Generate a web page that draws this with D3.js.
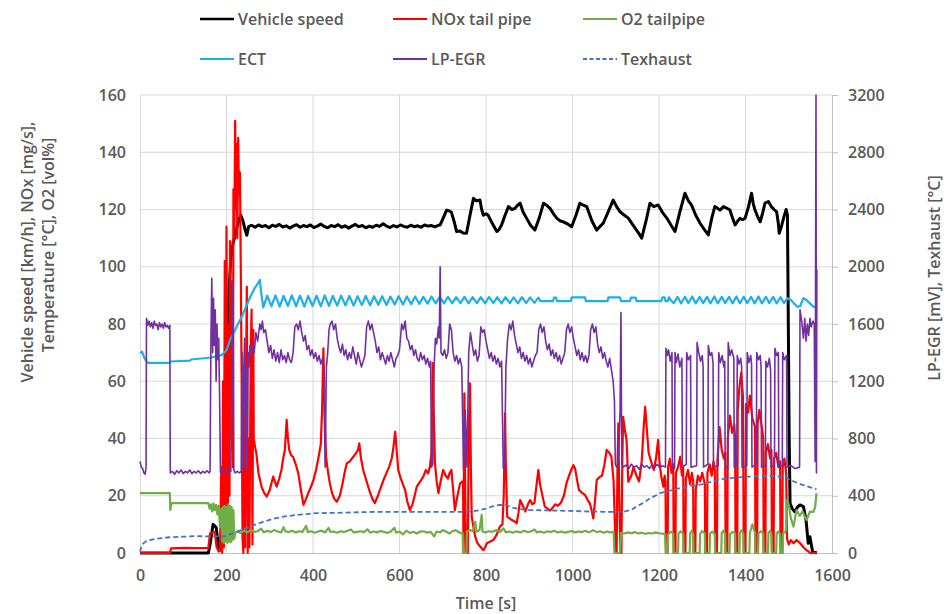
<!DOCTYPE html>
<html><head><meta charset="utf-8">
<script src="https://cdn.jsdelivr.net/npm/d3@7"></script>
<style>
body{margin:0;background:#fff;}
svg text{font-family:"Open Sans",sans-serif;font-weight:600;fill:#595959;}
</style></head><body>
<svg id="chart" width="947" height="614"></svg>
<script>
// ---------- DATA ----------
const xTicks = [0,200,400,600,800,1000,1200,1400,1600];
const yLeftTicks = [0,20,40,60,80,100,120,140,160];
const yRightTicks = [0,400,800,1200,1600,2000,2400,2800,3200];
const seriesNames = ["Vehicle speed","NOx tail pipe","O2 tailpipe","ECT","LP-EGR","Texhaust"];

// [time s, km/h]
const vehicleSpeed = [[0,0],[158,0],[162,3],[169,10],[176,9],[181,3],[185,1],[190,4],[194,9],[198,40],[202,75],[206,92],[210,103],[215,108],[220,111],[226,115],[233,118],[238,116],[243,113],[247,111],[251,114],[258,114.5],[266,113.8],[274,114.6],[282,114],[290,114.4],[298,113.6],[306,114.5],[314,114.1],[322,114.8],[330,113.9],[338,114.3],[346,113.5],[354,114.2],[362,114.7],[370,113.8],[378,114.4],[386,114],[394,114.6],[402,113.7],[410,114.2],[418,114.9],[426,114.1],[434,113.6],[442,114.4],[450,114],[458,114.7],[466,113.8],[474,114.3],[482,113.5],[490,114.2],[498,114.8],[506,114],[514,114.4],[522,113.6],[530,114.2],[538,113.8],[546,114.5],[554,114.1],[562,115],[570,114.2],[578,113.7],[586,114.4],[594,113.9],[602,114.6],[610,114.1],[618,113.8],[626,114.5],[634,114],[642,114.3],[650,113.8],[658,114.6],[666,114.2],[674,114.4],[682,113.9],[690,114.5],[694,114.6],[701,117],[709,119.8],[715,119.5],[720,119],[726,116],[732,112.3],[740,112.5],[747,111.8],[755,111.7],[763,118],[771,123.9],[778,123],[786,123.3],[790,120],[794,118],[800,118.5],[805,118],[815,115],[825,112.3],[830,113],[836,114.6],[844,118],[852,121],[860,120],[867,120.4],[873,121.5],[879,122.2],[886,119],[894,116.9],[903,114.5],[913,112.8],[923,117],[933,122.2],[940,121.5],[948,120.4],[956,118.5],[964,116.9],[972,116],[979,115.7],[988,115],[998,114],[1008,118],[1017,122.2],[1025,121.5],[1033,121],[1045,116],[1056,112.8],[1063,114],[1071,115.2],[1082,119],[1094,123.3],[1102,121],[1110,119.2],[1120,118],[1129,117],[1138,115],[1148,112.8],[1154,111.5],[1160,110],[1170,116],[1179,122.2],[1188,121],[1198,121.6],[1208,119],[1218,117],[1228,114.5],[1237,112.3],[1248,119],[1260,125.7],[1268,123],[1275,121.6],[1285,118],[1295,115.2],[1305,113],[1314,111.1],[1322,117],[1329,121],[1335,120.5],[1341,119.8],[1349,121],[1356,120.5],[1364,119.8],[1370,117],[1376,114.6],[1382,116],[1387,116.9],[1393,116.5],[1399,116.9],[1407,121],[1414,125.7],[1418,122],[1422,119.8],[1428,117.5],[1434,115.7],[1440,119],[1445,122.2],[1453,122.8],[1460,121],[1466,120],[1472,119.2],[1476,115],[1478,111.7],[1484,114.6],[1489,117.5],[1494,120],[1497,118],[1499,80],[1501,40],[1503,17.4],[1508,15.5],[1514,14.4],[1520,16],[1526,16.8],[1534,16.2],[1540,11.5],[1545,3.4],[1549,5.7],[1555,0.5],[1565,0]];

// [time s, mg/s]
const noxTailpipe = [[0,0],[69,0],[72,1.6],[100,1.8],[130,1.7],[158,1.8],[162,6.9],[168,7.2],[173,7.4],[177,2.2],[182,0.5],[185,1],[188,30],[190,0],[192,60],[194,2],[196,102],[198,10],[200,114],[203,5],[205,80],[207,20],[208,109],[211,40],[213,95],[215,30],[216,127],[218,110],[220,151],[222,120],[223,143],[225,110],[227,145],[229,125],[231,133],[233,100],[235,60],[237,5],[239,0],[241,50],[243,2],[245,60],[247,93],[249,0],[251,40],[253,2],[256,70],[258,85],[260,3],[262,78],[263,40],[266,37],[269,34.8],[274,27.8],[281,23.2],[287,21],[293,19.7],[300,22],[308,26.7],[316,23.2],[322,26],[327,29],[331,33],[335,36],[339,46.5],[342,40],[345,36],[350,34],[354,33.6],[360,31],[366,27.8],[372,22],[378,16.8],[384,19],[389,20.9],[395,23],[401,25.5],[407,29],[413,33.6],[418,38],[421,50],[424,71.5],[427,50],[430,33.6],[435,28],[439,24.3],[444,21],[449,19],[455,17.9],[462,20],[468,24],[473,28],[478,31.3],[485,32],[493,33.6],[500,35],[504,36],[507,38.3],[511,33],[516,29],[522,26],[530,22],[537,19],[543,17.4],[550,20],[557,23],[563,25.5],[570,28],[576,30.1],[582,33],[586,37],[590,42.4],[594,35],[597,29],[603,26],[608,24],[613,22],[618,18],[624,15],[630,17],[635,20],[640,23.2],[648,25],[655,26.7],[661,29],[666,27.8],[670,30],[674,35],[677,66.3],[679,50],[682,31.3],[686,25],[690,20.9],[695,25],[701,29],[707,27],[712,26],[716,28],[720,29],[724,22],[728,15],[734,20],[740,24.3],[745,25],[747,24],[748,0],[749,30],[750,55.8],[752,20],[754,0],[758,0],[760,40],[763,59.3],[765,30],[767,12.7],[771,9],[775,5.7],[780,3.5],[785,2.5],[794,1],[798,2],[802,3.4],[810,4],[817,4.5],[825,6.5],[832,9.2],[838,10],[841,20],[844,48.8],[846,30],[849,12.7],[855,12],[860,11.5],[866,11],[871,10.4],[875,14],[879,18.5],[885,16.5],[891,14.5],[897,17],[902,18.5],[907,17],[912,17.5],[917,24],[921,29],[925,24],[929,21],[936,16.2],[942,15.5],[948,14.8],[955,16],[960,17],[966,16.5],[973,17.5],[980,20],[986,24.3],[992,27],[997,29],[1002,30.7],[1006,29.5],[1010,26],[1015,22],[1022,21],[1029,20.3],[1035,18.5],[1040,17.4],[1044,15],[1048,12.1],[1052,18],[1056,25.5],[1062,26.5],[1068,27],[1074,31],[1079,36],[1085,35],[1090,33.6],[1095,25],[1098,10],[1099,0],[1102,0],[1104,30],[1106,45.3],[1108,20],[1111,0],[1113,0],[1115,30],[1117,47.6],[1121,43],[1125,39.5],[1129,24.9],[1136,27],[1141,30],[1148,27],[1154,25],[1160,32],[1165,45],[1168,51.1],[1172,43],[1176,35],[1183,31.3],[1188,29],[1193,33],[1198,39.5],[1201,32],[1205,27],[1210,23.2],[1213,27],[1215,25],[1216,0],[1220,0],[1221,30],[1225,33],[1229,28],[1233,31],[1234,0],[1238,0],[1239,28],[1244,30],[1249,33.6],[1253,27],[1256,30],[1257,0],[1261,0],[1262,26],[1267,29],[1272,24],[1276,28],[1279,25],[1280,0],[1284,0],[1285,22],[1290,27],[1295,25],[1300,28],[1306,24],[1307,0],[1311,0],[1312,28],[1317,31],[1322,27],[1326,32],[1329,29],[1330,0],[1334,0],[1335,32],[1340,44],[1345,36],[1350,33],[1353,35],[1354,0],[1358,0],[1359,40],[1364,48],[1369,42],[1374,45],[1376,40],[1377,0],[1381,0],[1382,50],[1386,58],[1390,63],[1394,55],[1396,0],[1400,0],[1401,52],[1406,49],[1410,55],[1416,47],[1422,44],[1423,0],[1427,0],[1428,45],[1432,50],[1436,46],[1441,40],[1442,0],[1446,0],[1447,35],[1452,38],[1457,33],[1460,36],[1461,0],[1465,0],[1466,33],[1471,35],[1476,30],[1480,32],[1481,0],[1485,0],[1486,30],[1490,33],[1494,28],[1496,5],[1500,3],[1505,4.5],[1511,3.4],[1518,4.5],[1526,3.5],[1534,2],[1541,1],[1550,0],[1565,0]];

// [time s, vol%]
const o2Tailpipe = [[0,20.9],[69,20.9],[70,15],[73,17.4],[110,17.4],[158,17.4],[161,15.5],[164,17],[167,14.5],[170,17.3],[173,15],[176,16.8],[179,13.5],[182,16.5],[185,9],[188,15.5],[190,4],[192,16],[194,3.5],[196,16.5],[198,4],[200,16],[202,3.5],[204,17],[206,4],[208,16.5],[210,3.8],[212,16],[214,4.5],[216,15],[218,5],[220,6.9],[226,7.6],[232,7],[240,7.8],[248,7.2],[256,8],[264,7.4],[272,7.6],[280,8.5],[286,7.2],[294,7.8],[302,7.3],[310,8],[318,7.5],[326,7.2],[332,9],[336,7.6],[344,7.3],[352,7.8],[360,7.2],[368,7.6],[376,7.4],[384,9.5],[388,7.3],[396,7.6],[404,7.1],[412,7.5],[420,7.8],[428,7.2],[436,8.8],[440,7.4],[448,7.5],[456,7.1],[464,7.6],[472,7.3],[480,7.8],[488,8.2],[494,7.2],[502,7.4],[510,7.6],[518,7.3],[526,8.3],[532,7.1],[540,7.5],[548,7.2],[556,7.7],[564,7.4],[572,7],[580,7.5],[588,8.8],[592,7.1],[600,7.5],[608,6.5],[616,7.8],[624,7],[632,7.4],[640,6.8],[648,7.5],[656,7.6],[664,7.1],[672,7.4],[680,5.8],[686,7.5],[694,7.2],[700,8],[708,7.4],[716,6.8],[722,7.6],[730,8],[736,7.4],[742,6.9],[746,7],[747,0],[755,0],[756,7.5],[763,8],[770,7.6],[775,10.9],[778,7.4],[785,8],[790,13.3],[792,7.5],[798,7.2],[806,7.6],[814,7.4],[825,8],[832,7.3],[840,8.6],[846,7.2],[854,7.5],[862,7.1],[870,7.6],[879,7.2],[888,7.8],[896,7.3],[904,7.5],[912,8.2],[918,7.2],[926,7.5],[934,7.1],[942,7.6],[950,7.3],[958,7.8],[966,7.2],[974,7.5],[982,7.1],[990,7.4],[998,7.7],[1006,7.2],[1014,7.5],[1022,7.3],[1030,7.8],[1038,7.2],[1048,8],[1056,7.3],[1064,7.6],[1072,7.1],[1080,7.5],[1088,7.2],[1095,7.4],[1097,0],[1110,0],[1112,7],[1120,6.8],[1128,7.2],[1136,6.9],[1144,7.3],[1152,6.8],[1160,7.1],[1168,6.7],[1176,7],[1184,6.8],[1192,7.2],[1200,6.9],[1208,6.8],[1214,6.5],[1216,0],[1220,0],[1221,6.5],[1227,7.5],[1233,6.8],[1234,0],[1244,0],[1245,6.8],[1250,7.6],[1256,6.6],[1257,0],[1271,0],[1272,6.8],[1276,7.8],[1279,6.6],[1280,0],[1294,0],[1295,6.7],[1300,7.7],[1306,6.8],[1307,0],[1317,0],[1318,6.8],[1323,7.5],[1329,6.6],[1330,0],[1344,0],[1345,7],[1349,7.8],[1353,6.6],[1354,0],[1363,0],[1364,6.7],[1370,7.4],[1376,6.8],[1377,0],[1386,0],[1387,7],[1391,8],[1395,6.6],[1396,0],[1409,0],[1410,7],[1416,10],[1422,7],[1423,0],[1429,0],[1430,6.8],[1435,7.6],[1441,6.8],[1442,0],[1452,0],[1453,7],[1457,7.8],[1460,6.6],[1461,0],[1471,0],[1472,6.8],[1476,7.5],[1480,6.6],[1481,0],[1486,0],[1487,7],[1491,7.2],[1494,8],[1496,18.5],[1500,17],[1505,12],[1511,9.2],[1518,15],[1525,13],[1532,14.5],[1541,11.5],[1549,14.4],[1557,14.4],[1561,16],[1564,20.9]];

// [time s, °C]
const ectTemp = [[0,69.8],[5,70.3],[10,68.2],[15,66.8],[20,66.4],[45,66.4],[69,66.4],[71,66.9],[116,67.2],[118,67.6],[160,68.2],[180,68.8],[189,69.2],[195,70],[200,70.9],[208,74.4],[216,76.7],[225,79.5],[235,82.5],[245,86],[255,89.5],[265,92.5],[272,94],[277,95.4],[281,90],[285,85.8],[294,89.9],[304,86.2],[313,90],[323,86.1],[332,89.8],[342,86.3],[351,90],[361,86.2],[370,89.9],[380,86.1],[389,89.8],[399,86.3],[408,89.9],[418,86.2],[427,90],[437,86.3],[446,89.8],[456,86.4],[465,89.9],[475,86.5],[484,89.8],[494,86.4],[503,89.7],[513,86.6],[522,89.8],[532,86.5],[541,89.7],[551,86.7],[560,89.7],[570,86.6],[579,89.6],[589,86.8],[598,89.7],[608,86.8],[617,89.6],[627,86.9],[636,89.6],[646,87],[655,89.5],[665,87.1],[674,89.6],[684,87.2],[693,89.5],[703,87.2],[712,89.5],[722,87.2],[731,89.4],[741,87.3],[750,89.5],[760,87.2],[769,89.4],[779,87.3],[788,89.4],[798,87.2],[807,89.5],[817,87.3],[826,89.4],[836,87.2],[845,89.4],[855,87.3],[864,89.3],[874,87.2],[883,89.4],[893,87.3],[902,89.3],[912,87.4],[921,89.2],[926,88],[955,88],[957,89.2],[962,89.2],[964,88],[996,88],[998,89.3],[1029,89.3],[1031,88],[1081,88],[1083,89.3],[1110,89.3],[1112,88],[1133,88],[1135,89.2],[1146,89.2],[1148,88],[1205,88],[1208,89.3],[1213,89.3],[1215,88],[1220,88],[1223,89.3],[1228,88.2],[1234,87.3],[1243,89.5],[1251,87.2],[1260,89.5],[1268,87.3],[1277,89.6],[1285,87.2],[1294,89.5],[1302,87.3],[1311,89.5],[1319,87.2],[1328,89.6],[1336,87.2],[1345,89.5],[1353,87.3],[1362,89.5],[1370,87.2],[1379,89.6],[1387,87.2],[1396,89.5],[1404,87.3],[1413,89.5],[1421,87.2],[1430,89.6],[1438,87.2],[1447,89.5],[1455,87.3],[1464,89.5],[1472,87.2],[1481,89.4],[1489,87.3],[1497,89],[1505,88.4],[1512,87.2],[1520,86],[1526,86.2],[1534,89],[1541,88.4],[1549,87.2],[1557,86],[1565,86]];

// [time s, mV]
const lpEgr = [[0,640],[3,600],[6,590],[9,560],[12,550],[14,600],[15,1640],[18,1590],[21,1620],[24,1580],[27,1610],[30,1570],[33,1620],[36,1590],[39,1600],[42,1560],[45,1610],[48,1580],[51,1600],[54,1570],[57,1610],[60,1580],[63,1590],[66,1570],[69,1590],[70,560],[75,570],[80,550],[85,575],[90,560],[95,580],[100,555],[105,570],[110,560],[115,580],[120,555],[125,570],[130,560],[135,575],[140,555],[145,570],[150,560],[155,575],[160,560],[162,570],[164,1500],[166,1920],[168,1400],[170,1780],[172,1450],[174,1700],[176,1200],[178,1600],[180,1350],[182,1500],[184,1100],[186,560],[190,570],[195,560],[200,580],[205,560],[210,570],[213,1200],[215,1900],[217,580],[220,560],[225,570],[230,560],[234,570],[236,1400],[238,580],[240,1300],[242,1500],[244,600],[246,1300],[248,580],[250,1400],[252,1300],[254,1450],[256,1380],[260,1450],[264,1400],[268,1540],[272,1480],[277,1600],[280,1560],[283,1620],[286,1540],[290,1560],[294,1480],[298,1400],[302,1450],[306,1360],[310,1420],[314,1340],[318,1400],[322,1330],[326,1420],[330,1350],[334,1380],[338,1330],[342,1400],[346,1350],[350,1330],[354,1400],[358,1580],[362,1600],[366,1560],[370,1620],[374,1540],[378,1480],[382,1520],[386,1420],[390,1450],[394,1380],[398,1420],[402,1360],[406,1400],[410,1340],[414,1380],[418,1320],[422,1360],[425,1300],[428,600],[431,1300],[434,1400],[437,1560],[440,1600],[444,1620],[448,1560],[452,1600],[456,1500],[460,1440],[464,1400],[468,1460],[472,1380],[476,1420],[480,1350],[484,1400],[488,1360],[492,1440],[496,1380],[500,1320],[504,1400],[508,1350],[512,1300],[516,1340],[520,1380],[524,1580],[528,1620],[532,1560],[536,1600],[540,1540],[544,1480],[548,1400],[552,1440],[556,1350],[560,1400],[564,1360],[568,1320],[572,1380],[576,1340],[580,1400],[584,1350],[588,1300],[592,1360],[596,1380],[600,1420],[605,1600],[609,1560],[613,1620],[617,1500],[621,1480],[625,1420],[629,1450],[633,1380],[637,1420],[641,1360],[645,1340],[649,1400],[653,1350],[657,1380],[661,1320],[665,1360],[669,1300],[672,1340],[674,600],[677,620],[680,1300],[683,1500],[686,1460],[690,1580],[692,1500],[694,2000],[696,1400],[700,1380],[704,1420],[708,1360],[712,1400],[716,1600],[720,1560],[724,1400],[728,1340],[732,1380],[736,1320],[740,1360],[744,1300],[748,580],[752,1000],[756,600],[760,1400],[764,1540],[768,1460],[772,1380],[776,1420],[780,1340],[784,1380],[788,1580],[792,1540],[796,1560],[800,1480],[804,1420],[808,1360],[812,1400],[816,1340],[820,1380],[824,1320],[828,1360],[832,1300],[836,1340],[840,590],[843,600],[846,1300],[850,1500],[854,1600],[858,1560],[862,1620],[866,1520],[870,1460],[874,1400],[878,1440],[882,1360],[886,1400],[890,1340],[894,1380],[898,1320],[902,1360],[906,1300],[910,1340],[914,1380],[918,1400],[922,1560],[926,1600],[930,1540],[934,1580],[938,1480],[942,1420],[946,1460],[950,1380],[954,1420],[958,1360],[962,1400],[966,1340],[970,1380],[974,1320],[978,1360],[982,1400],[986,1560],[990,1600],[994,1540],[998,1580],[1002,1500],[1006,1440],[1010,1380],[1014,1420],[1018,1350],[1022,1400],[1026,1340],[1030,1380],[1034,1330],[1038,1380],[1042,1560],[1046,1600],[1050,1540],[1054,1580],[1058,1460],[1062,1400],[1066,1440],[1070,1360],[1074,1400],[1078,1340],[1082,1300],[1086,1360],[1090,1280],[1094,1200],[1097,1060],[1099,620],[1102,600],[1106,620],[1110,1000],[1112,1680],[1114,620],[1118,600],[1124,615],[1130,590],[1136,620],[1142,600],[1148,610],[1154,585],[1160,620],[1166,600],[1172,610],[1178,590],[1184,615],[1190,600],[1196,620],[1202,595],[1208,610],[1215,600],[1216,1430],[1219,1380],[1222,1420],[1226,1340],[1230,1400],[1231,610],[1236,590],[1237,1400],[1240,1330],[1244,1390],[1248,1300],[1253,1360],[1254,600],[1263,620],[1264,1400],[1268,1350],[1273,1380],[1274,600],[1287,610],[1288,1470],[1292,1400],[1296,1340],[1300,1380],[1302,1300],[1303,600],[1313,620],[1314,1450],[1318,1380],[1322,1400],[1325,1330],[1326,600],[1337,610],[1338,1400],[1342,1330],[1346,1380],[1350,1300],[1352,1340],[1353,610],[1359,590],[1360,1470],[1364,1380],[1368,1420],[1373,1360],[1374,600],[1380,610],[1381,1380],[1385,1320],[1389,1360],[1391,1300],[1392,600],[1403,610],[1404,1400],[1408,1330],[1412,1380],[1414,1320],[1415,600],[1425,620],[1426,1400],[1430,1350],[1434,1380],[1436,1300],[1437,600],[1446,610],[1447,1340],[1451,1300],[1455,1360],[1458,1280],[1459,600],[1467,620],[1468,1430],[1472,1380],[1476,1400],[1477,600],[1485,610],[1486,1400],[1490,1350],[1495,1380],[1496,600],[1505,610],[1515,590],[1525,600],[1526,1700],[1530,1620],[1534,1500],[1537,1640],[1540,1480],[1543,1600],[1546,1520],[1549,1640],[1552,1580],[1556,1620],[1559,1600],[1561,640],[1563,3200],[1564,560],[1565,1980]];

// [time s, °C]
const texhaust = [[0,10],[4,50],[8,68],[15,84],[31,96],[50,104],[69,110],[100,114],[131,118],[160,116],[190,116],[200,118],[208,130],[223,148],[240,166],[254,184],[270,202],[285,218],[300,232],[315,244],[331,254],[346,260],[362,266],[385,272],[408,278],[440,280],[478,282],[520,286],[555,288],[600,288],[671,288],[700,288],[747,288],[770,292],[786,300],[800,310],[815,326],[832,336],[845,334],[860,318],[879,306],[900,300],[940,298],[994,294],[1040,290],[1071,288],[1100,288],[1117,288],[1135,300],[1148,324],[1165,352],[1179,382],[1195,405],[1202,418],[1230,440],[1264,464],[1300,480],[1341,514],[1380,528],[1410,534],[1450,540],[1487,534],[1495,530],[1503,510],[1530,478],[1564,446]];

// ---------- CHART ----------
const svg = d3.select("#chart");
const L = 140, R = 832, T = 95, B = 553;
const x = d3.scaleLinear().domain([0,1600]).range([L,R]);
const yL = d3.scaleLinear().domain([0,160]).range([B,T]);
const yR = d3.scaleLinear().domain([0,3200]).range([B,T]);
const fmt = d3.format("d");

// grid
svg.append("g").selectAll("line").data(yLeftTicks.filter(d=>d>0)).join("line")
  .attr("x1",L).attr("x2",R).attr("y1",d=>yL(d)).attr("y2",d=>yL(d))
  .attr("stroke","#d9d9d9").attr("stroke-width",1);
svg.append("g").selectAll("line").data(xTicks.filter(d=>d>0 && d<1600)).join("line")
  .attr("x1",d=>x(d)).attr("x2",d=>x(d)).attr("y1",T).attr("y2",B)
  .attr("stroke","#d9d9d9").attr("stroke-width",1);

// axes
const fs = "16px";
const ax = svg.append("g").attr("transform",`translate(0,${B})`)
  .call(d3.axisBottom(x).tickValues(xTicks).tickFormat(fmt).tickSize(0).tickPadding(17));
ax.select(".domain").attr("stroke","#bfbfbf");
ax.selectAll("text").style("font-size",fs);

const ayl = svg.append("g").attr("transform",`translate(${L},0)`)
  .call(d3.axisLeft(yL).tickValues(yLeftTicks).tickFormat(fmt).tickSize(0).tickPadding(14));
ayl.select(".domain").attr("stroke","#d9d9d9");
ayl.selectAll("text").style("font-size",fs);

const ayr = svg.append("g").attr("transform",`translate(${R},0)`)
  .call(d3.axisRight(yR).tickValues(yRightTicks).tickFormat(fmt).tickSize(6).tickSizeOuter(0).tickPadding(10));
ayr.select(".domain").attr("stroke","#bfbfbf");
ayr.selectAll("line").attr("stroke","#bfbfbf");
ayr.selectAll("text").style("font-size",fs);
svg.selectAll(".tick text").attr("fill","#595959").style("font-family","'Open Sans',sans-serif").style("font-weight","600");

// series
const lineL = d3.line().x(d=>x(d[0])).y(d=>yL(d[1]));
const lineR = d3.line().x(d=>x(d[0])).y(d=>yR(d[1]));
const styles = [
  {data:vehicleSpeed, gen:lineL, color:"#000000", w:3, dash:null},
  {data:noxTailpipe, gen:lineL, color:"#ff0000", w:2.2, dash:null},
  {data:o2Tailpipe, gen:lineL, color:"#70ad47", w:2.2, dash:null},
  {data:ectTemp, gen:lineL, color:"#1cb0ea", w:2.2, dash:null},
  {data:lpEgr, gen:lineR, color:"#7030a0", w:1.6, dash:null},
  {data:texhaust, gen:lineR, color:"#4472c4", w:1.8, dash:"5,3"}
];
styles.forEach(s=>{
  svg.append("path").attr("d",s.gen(s.data)).attr("fill","none")
    .attr("stroke",s.color).attr("stroke-width",s.w)
    .attr("stroke-linejoin","round")
    .attr("stroke-dasharray",s.dash);
});

// legend
const legX = [200,393,583], legY = [19,59];
seriesNames.forEach((n,i)=>{
  const s = styles[i];
  const gx = legX[i%3], gy = legY[Math.floor(i/3)];
  svg.append("line").attr("x1",gx).attr("x2",gx+34).attr("y1",gy).attr("y2",gy)
    .attr("stroke",s.color).attr("stroke-width",Math.max(2,s.w-0.5)).attr("stroke-dasharray",s.dash?"4,2.5":null);
  svg.append("text").attr("x",gx+38).attr("y",gy).attr("dy","0.35em")
    .style("font-size",fs).text(n);
});

// axis titles
svg.append("text").attr("transform","translate(27,252) rotate(-90)").attr("text-anchor","middle")
  .attr("dy","0.35em").style("font-size",fs).text("Vehicle speed [km/h], NOx [mg/s],");
svg.append("text").attr("transform","translate(48,245) rotate(-90)").attr("text-anchor","middle")
  .attr("dy","0.35em").style("font-size",fs).text("Temperature [°C], O2 [vol%]");
svg.append("text").attr("transform","translate(934,278) rotate(-90)").attr("text-anchor","middle")
  .attr("dy","0.35em").style("font-size",fs).text("LP-EGR [mV], Texhaust [°C]");
svg.append("text").attr("x",486).attr("y",603).attr("text-anchor","middle")
  .attr("dy","0.35em").style("font-size",fs).text("Time [s]");
</script>
</body></html>
